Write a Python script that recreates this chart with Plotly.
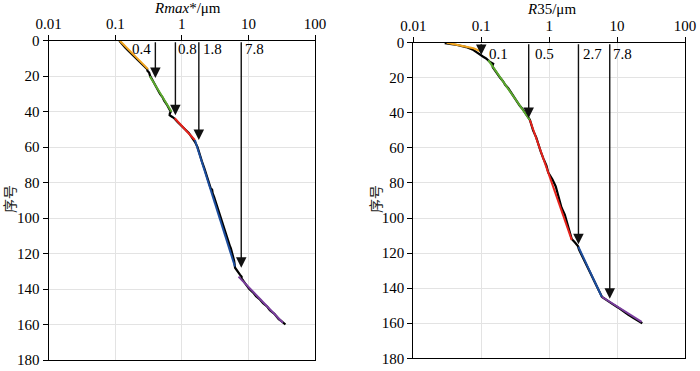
import numpy as np
import plotly.graph_objects as go

# ---------------- data: left panel (Rmax*) ----------------
left_rank = [0, 2, 3, 4, 6, 8, 10, 12, 14, 16, 17, 18, 20, 22, 24, 26, 28, 30, 32, 34, 36, 38, 40, 41, 42, 43,
             44, 46, 48, 50, 52, 54, 56, 57, 60, 64, 68, 72, 76, 80, 83, 84, 86, 88, 92, 96, 97, 100, 104,
             108, 112, 116, 117, 120, 124, 128, 130, 132, 133, 134, 136, 138, 140, 142, 144, 146, 148, 150,
             152, 154, 156, 157, 158, 159, 160]
left_val = [0.115, 0.126, 0.136, 0.142, 0.16, 0.183, 0.205, 0.235, 0.265, 0.30, 0.305, 0.322, 0.335, 0.36,
            0.385, 0.405, 0.445, 0.47, 0.515, 0.545, 0.595, 0.64, 0.68, 0.66, 0.655, 0.72,
            0.78, 0.87, 0.98, 1.12, 1.27, 1.38, 1.52, 1.57, 1.72, 1.84, 2.0, 2.18, 2.36, 2.55, 2.7, 2.85,
            2.9, 3.05, 3.3, 3.5, 3.62, 3.8, 4.1, 4.5, 4.85, 5.3, 5.45, 5.7, 6.1, 6.3, 6.8, 7.5, 7.9, 7.9,
            8.6, 9.3, 10.3, 11.8, 13.0, 15.0, 16.6, 19.2, 21.0, 24.5, 27.0, 28.5, 31.0, 33.0, 36.0]

left_fit_rank = {"orange": [0, 16], "green": [20, 40], "red": [43.7, 56],
                 "blue": [56, 127.3], "purple": [133, 159]}
left_fit_val = {"orange": [0.117, 0.31], "green": [0.33, 0.70], "red": [0.78, 1.57],
                "blue": [1.57, 6.27], "purple": [7.1, 33.0]}

left_cut_labels = ["0.4", "0.8", "1.8", "7.8"]
left_cut_vals = [0.4, 0.8, 1.8, 7.8]
left_cut_tip = [21, 42, 56, 128]

# ---------------- data: right panel (R35) ----------------
right_rank = [0.3, 1.3, 2.5, 4.2, 5.5, 7, 8, 9, 10, 11, 12, 13, 14, 16, 18, 20, 22, 24, 26, 28, 30, 32, 34,
              36, 38, 40, 42, 44, 46, 50, 54, 58, 62, 66, 70, 74, 78, 82, 86, 90, 94, 98, 102, 106, 110,
              112, 114, 116, 118, 122, 126, 130, 134, 138, 142, 145, 147, 149, 151, 153, 155, 157, 159, 160]
right_val = [0.029, 0.044, 0.06, 0.077, 0.086, 0.096, 0.107, 0.118, 0.125, 0.135, 0.15, 0.147,
             0.148, 0.16, 0.176, 0.19, 0.21, 0.225, 0.25, 0.27, 0.29, 0.32, 0.345, 0.37, 0.41, 0.44, 0.48,
             0.52, 0.54, 0.58, 0.645, 0.69, 0.75, 0.82, 0.91, 0.97, 1.12, 1.25, 1.33, 1.42, 1.52, 1.7, 1.82,
             1.95, 2.08, 2.15, 2.4, 2.65, 2.75, 3.1, 3.5, 3.9, 4.4, 4.9, 5.5, 6.0, 7.0, 8.5, 10.3, 12.5,
             14.5, 17.5, 22.0, 23.5]

right_fit_rank = {"orange": [0, 3.2, 5.1], "green": [9.9, 44.1], "red": [44.1, 112.5],
                  "blue": [116.4, 144.9], "purple": [144.9, 159.2]}
right_fit_val = {"orange": [0.031, 0.077, 0.10], "green": [0.127, 0.52], "red": [0.52, 2.15],
                 "blue": [2.69, 5.95], "purple": [5.95, 23.0]}

right_cut_labels = ["0.1", "0.5", "2.7", "7.8"]
right_cut_vals = [0.1, 0.5, 2.7, 7.8]
right_cut_tip = [7, 43, 115, 146]

y_ticks = list(range(0, 181, 20))
x_tickvals = [0.01, 0.1, 1, 10, 100]
x_ticktext = ["0.01", "0.1", "1", "10", "100"]

# ---------------- styling ----------------
W, H = 700, 371
colors = {"orange": "#F2A51F", "green": "#5BAA2E", "red": "#E8231C",
          "blue": "#1D4E9E", "purple": "#7A3E9D"}
serif = "Liberation Serif"
cjk = "Noto Sans CJK SC"

fig = go.Figure()

panels = [
    dict(xa="x", ya="y", rank=left_rank, val=left_val, fr=left_fit_rank, fv=left_fit_val,
         labels=left_cut_labels, cuts=left_cut_vals, tips=left_cut_tip,
         shifts=[-2, 1, 2, 2], anchors=["right", "left", "left", "left"], label_y=4.7),
    dict(xa="x2", ya="y2", rank=right_rank, val=right_val, fr=right_fit_rank, fv=right_fit_val,
         labels=right_cut_labels, cuts=right_cut_vals, tips=right_cut_tip,
         shifts=[6, 4, 3, 1], anchors=["left", "left", "left", "left"], label_y=6.2),
]

annotations = []
for p in panels:
    fig.add_trace(go.Scatter(x=p["val"], y=p["rank"], mode="lines", xaxis=p["xa"], yaxis=p["ya"],
                             line=dict(color="black", width=2.2), showlegend=False, hoverinfo="skip"))
    for name in ["orange", "green", "red", "blue", "purple"]:
        fig.add_trace(go.Scatter(x=p["fv"][name], y=p["fr"][name], mode="lines",
                                 xaxis=p["xa"], yaxis=p["ya"],
                                 line=dict(color=colors[name], width=2), showlegend=False,
                                 hoverinfo="skip"))
    for lab, c, tip, sh, an in zip(p["labels"], p["cuts"], p["tips"], p["shifts"], p["anchors"]):
        lx = float(np.log10(c))
        annotations.append(dict(x=lx, y=tip, ax=lx, ay=0, xref=p["xa"], yref=p["ya"],
                                axref=p["xa"], ayref=p["ya"], text="", showarrow=True,
                                arrowhead=2, arrowsize=1.5, arrowwidth=1.4, arrowcolor="#111"))
        annotations.append(dict(x=lx, y=p["label_y"], xref=p["xa"], yref=p["ya"], text=lab,
                                showarrow=False, xanchor=an, yanchor="middle", xshift=sh,
                                font=dict(family=serif, size=15, color="black")))

# titles
annotations.append(dict(x=187 / W, y=1 - 8 / H, xref="paper", yref="paper", showarrow=False,
                        text="<i>Rmax</i>*/μm", xanchor="center", yanchor="middle",
                        font=dict(family=serif, size=15, color="black")))
annotations.append(dict(x=551.7 / W, y=1 - 9.5 / H, xref="paper", yref="paper", showarrow=False,
                        text="<i>R</i>35/μm", xanchor="center", yanchor="middle",
                        font=dict(family=serif, size=15, color="black")))
annotations.append(dict(x=9 / W, y=1 - 199 / H, xref="paper", yref="paper", showarrow=False,
                        text="序号", textangle=-90, xanchor="center", yanchor="middle",
                        font=dict(family=cjk, size=14, color="#222")))
annotations.append(dict(x=375 / W, y=1 - 199 / H, xref="paper", yref="paper", showarrow=False,
                        text="序号", textangle=-90, xanchor="center", yanchor="middle",
                        font=dict(family=cjk, size=14, color="#222")))

xaxis_common = dict(type="log", range=[-2, 2], side="top", tickvals=x_tickvals, ticktext=x_ticktext,
                    showgrid=True, gridcolor="#e3e3e3", gridwidth=1, zeroline=False, automargin=False,
                    showline=True, mirror=True, linecolor="black", linewidth=1.3,
                    ticks="outside", ticklen=5, tickcolor="black", tickwidth=1.2,
                    tickfont=dict(family=serif, size=15, color="black"))
yaxis_common = dict(range=[180, 0], tickvals=y_ticks, showgrid=True, gridcolor="#e3e3e3", gridwidth=1,
                    zeroline=False, showline=True, mirror=True, linecolor="black", linewidth=1.3,
                    automargin=False,
                    ticks="outside", ticklen=5, tickcolor="black", tickwidth=1.2,
                    tickfont=dict(family=serif, size=15, color="black"))

fig.update_layout(
    width=W, height=H, margin=dict(l=0, r=0, t=0, b=0, pad=0, autoexpand=False),
    paper_bgcolor="white", plot_bgcolor="white",
    xaxis=dict(domain=[48.7 / W, 315 / W], anchor="y", **xaxis_common),
    yaxis=dict(domain=[1 - 360 / H, 1 - 40.7 / H], anchor="x", **yaxis_common),
    xaxis2=dict(domain=[413.3 / W, 685 / W], anchor="y2", **xaxis_common),
    yaxis2=dict(domain=[1 - 358.3 / H, 1 - 42.7 / H], anchor="x2", **yaxis_common),
    annotations=annotations,
    showlegend=False,
)

fig.write_html("out.html", config={"displayModeBar": False},
               post_script="document.body.style.margin='0';")
